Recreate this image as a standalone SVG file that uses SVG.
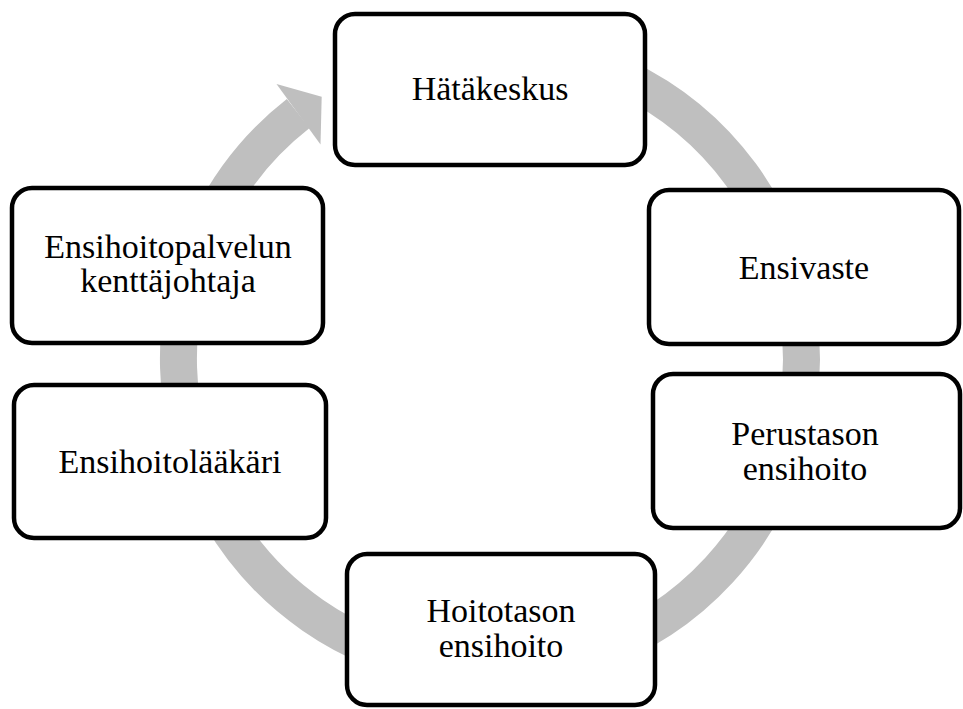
<svg xmlns="http://www.w3.org/2000/svg" width="963" height="709" viewBox="0 0 963 709">
  <style>
    .box { fill: #ffffff; stroke: #000000; stroke-width: 4.5; }
    .lbl { font-family: "Liberation Serif", "Times New Roman", serif; font-size: 34px; fill: #000000; text-anchor: middle; }
    .ring { fill: none; stroke: #bfbfbf; stroke-width: 37; }
    .head { fill: #bfbfbf; }
  </style>

  <!-- circular flow arrow behind the nodes -->
  <g id="connectors">
    <path class="ring" d="M 490 47.5 A 311.5 311.5 0 1 1 298.2 113.5"/>
    <polygon class="head" points="276.5,84 321.7,96.7 320.5,144.5"/>
  </g>

  <g id="node-hatakeskus">
    <rect class="box" x="335" y="14" width="310" height="151" rx="20" ry="20"/>
    <text class="lbl" x="490" y="100">Hätäkeskus</text>
  </g>

  <g id="node-ensivaste">
    <rect class="box" x="649" y="190" width="310" height="154" rx="20" ry="20"/>
    <text class="lbl" x="804" y="279">Ensivaste</text>
  </g>

  <g id="node-perustason">
    <rect class="box" x="653" y="374" width="307" height="154" rx="20" ry="20"/>
    <text class="lbl" x="805" y="445">Perustason</text>
    <text class="lbl" x="805" y="480">ensihoito</text>
  </g>

  <g id="node-hoitotason">
    <rect class="box" x="347" y="554" width="308" height="151" rx="20" ry="20"/>
    <text class="lbl" x="501" y="622">Hoitotason</text>
    <text class="lbl" x="501" y="657">ensihoito</text>
  </g>

  <g id="node-laakari">
    <rect class="box" x="14" y="385" width="312" height="153" rx="20" ry="20"/>
    <text class="lbl" x="170" y="473">Ensihoitolääkäri</text>
  </g>

  <g id="node-kenttajohtaja">
    <rect class="box" x="12" y="188" width="311" height="155" rx="20" ry="20"/>
    <text class="lbl" x="168" y="258">Ensihoitopalvelun</text>
    <text class="lbl" x="168" y="292">kenttäjohtaja</text>
  </g>
</svg>
